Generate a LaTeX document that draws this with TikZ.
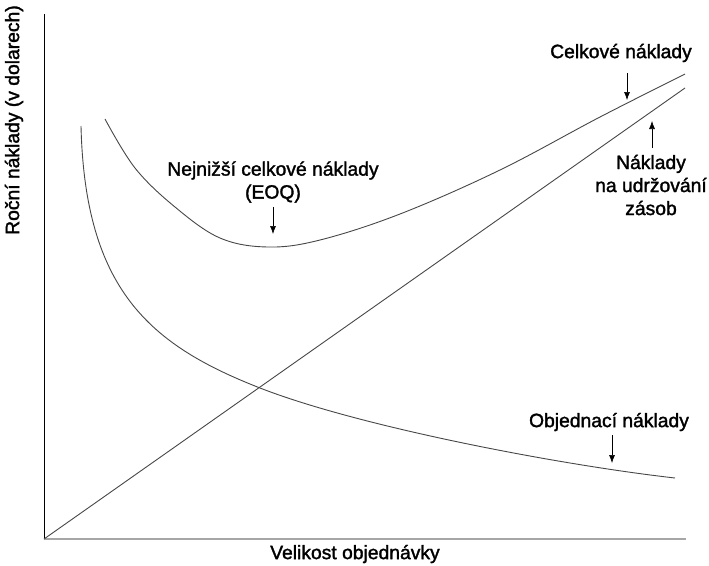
\documentclass[tikz,border=0pt]{standalone}
\usepackage{fontspec}
\setmainfont{Liberation Sans}
\newfontfamily\lblfont[FakeBold=1.6]{Liberation Sans}
\usetikzlibrary{arrows.meta}
\begin{document}
\begin{tikzpicture}[x=1pt,y=-1pt,
  lbl/.style={inner sep=0pt,font=\lblfont\fontsize{19.3}{23}\selectfont,align=center},
  curve/.style={draw=black!72,line width=0.9pt},
  pointer/.style={draw=black,line width=0.6pt,-{Latex[length=8pt,width=6pt]}}]
\useasboundingbox (0,0) rectangle (709,565);
% axes
\coordinate (O) at (44,539);
\coordinate (Ytop) at (44,14);
\coordinate (Xend) at (686,539);
\draw[black,line width=1pt] (Ytop) -- (O);
\draw[black!35,line width=1.4pt] (O) -- (Xend);
% holding cost line
\coordinate (H) at (685,88);
\draw[curve] (O) -- (H);
% ordering cost curve
\coordinate (o1) at (81,126);
\coordinate (o2) at (260,388);
\coordinate (o3) at (675,478);
\draw[curve] (o1) .. controls (85,290) and (150,345) .. (o2)
  .. controls (360,427) and (560,465) .. (o3);
% total cost curve
\draw[curve] plot[smooth,tension=0.6] coordinates {(105,119) (135,168) (175,207) (220,238) (268,247) (320,240) (400,214) (500,170) (600,117) (685,74)};
% labels
\node[lbl] (eoq) at (273,182) {Nejnižší celkové náklady\\(EOQ)};
\node[lbl] (tot) at (621,53) {Celkové náklady};
\node[lbl] (hold) at (651,185) {Náklady\\na udržování\\zásob};
\node[lbl] (ord) at (609,422) {Objednací náklady};
\node[lbl] (xl) at (355,554) {Velikost objednávky};
\node[lbl,rotate=90] (yl) at (14,120) {Roční náklady (v dolarech)};
% pointers
\coordinate (eoqs) at (273,207); \coordinate (eoqt) at (273,234);
\draw[pointer] (eoqs) -- (eoqt);
\coordinate (tots) at (627,73); \coordinate (tott) at (627,100);
\draw[pointer] (tots) -- (tott);
\coordinate (holds) at (652,148); \coordinate (holdt) at (652,121);
\draw[pointer] (holds) -- (holdt);
\coordinate (ords) at (612,435); \coordinate (ordt) at (612,463);
\draw[pointer] (ords) -- (ordt);
\end{tikzpicture}
\end{document}
